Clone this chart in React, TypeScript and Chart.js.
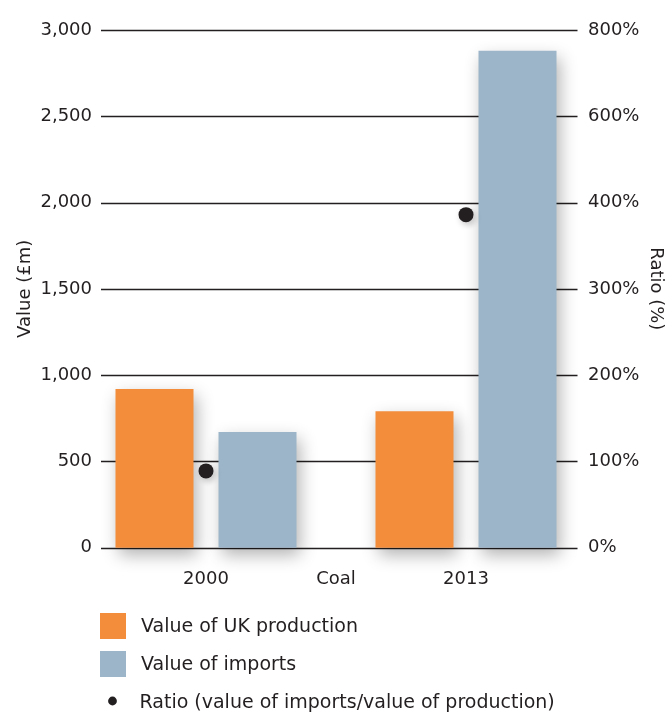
import React, { useEffect, useRef } from 'react';
import { Chart, registerables } from 'chart.js';

Chart.register(...registerables);

const categories = ['2000', 'Coal', '2013'];
const ukProduction = [920, null, 790];
const importsValue = [670, null, 2880];
const ratioPct = [89, null, 386];
const valueTickLabels = ['0', '500', '1,000', '1,500', '2,000', '2,500', '3,000'];
const ratioTickLabels = ['0%', '100%', '200%', '300%', '400%', '600%', '800%'];
const seriesLabels = [
  'Value of UK production',
  'Value of imports',
  'Ratio (value of imports/value of production)',
];
const axisTitles = ['Value (£m)', 'Ratio (%)'];

const ORANGE = '#F38D3B';
const BLUE = '#9CB5C8';
const INK = '#231F20';
const FONT = 'DejaVu Sans';

const gridPlugin = {
  id: 'hgrid',
  beforeDatasetsDraw(chart: any) {
    const { ctx, chartArea } = chart;
    const y = chart.scales.y;
    ctx.save();
    ctx.strokeStyle = INK;
    ctx.lineWidth = 1.3;
    y.ticks.forEach((t: any) => {
      const py = Math.round(y.getPixelForValue(t.value)) + 0.5;
      ctx.beginPath();
      ctx.moveTo(chartArea.left - 40, py);
      ctx.lineTo(chartArea.right + 46.5, py);
      ctx.stroke();
    });
    ctx.restore();
  },
};

const shadowPlugin = {
  id: 'shadows',
  beforeDatasetDraw(chart: any, args: any) {
    const ctx = chart.ctx;
    const isBar = chart.getDatasetMeta(args.index).type === 'bar';
    ctx.save();
    ctx.shadowColor = isBar ? 'rgba(0,0,0,0.3)' : 'rgba(0,0,0,0.22)';
    ctx.shadowBlur = isBar ? 16 : 6;
    ctx.shadowOffsetX = isBar ? 3 : 2;
    ctx.shadowOffsetY = isBar ? 7 : 3;
  },
  afterDatasetDraw(chart: any) {
    chart.ctx.restore();
  },
};

const legendPlugin = {
  id: 'customLegend',
  afterDraw(chart: any) {
    const { ctx } = chart;
    const ds = chart.data.datasets;
    const prod = ds.find((d: any) => d.label === seriesLabels[0]);
    const imp = ds.find((d: any) => d.label === seriesLabels[1]);
    const rat = ds.find((d: any) => d.label === seriesLabels[2]);
    ctx.save();
    ctx.font = `19px "${FONT}"`;
    ctx.textBaseline = 'middle';
    ctx.textAlign = 'left';
    const rows = [
      { y: 626, d: prod },
      { y: 664, d: imp },
    ];
    rows.forEach((r) => {
      ctx.fillStyle = r.d.backgroundColor;
      ctx.fillRect(100, r.y - 13, 26, 26);
      ctx.fillStyle = INK;
      ctx.fillText(r.d.label, 141, r.y + 1);
    });
    ctx.beginPath();
    ctx.arc(112.5, 701, 4.4, 0, Math.PI * 2);
    ctx.fillStyle = rat.backgroundColor;
    ctx.fill();
    ctx.fillStyle = INK;
    ctx.fillText(rat.label, 139.5, 703);
    ctx.restore();
  },
};

export default function App() {
  const ref = useRef<HTMLCanvasElement | null>(null);

  useEffect(() => {
    document.body.style.margin = '0';
    if (!ref.current) return;
    Chart.defaults.font.family = FONT;
    Chart.defaults.color = INK;
    const chart = new Chart(ref.current, {
      type: 'bar',
      data: {
        labels: categories,
        datasets: [
          {
            type: 'line',
            label: seriesLabels[2],
            data: ratioPct,
            yAxisID: 'y1',
            showLine: false,
            pointRadius: 7.5,
            pointBackgroundColor: INK,
            pointBorderWidth: 0,
            backgroundColor: INK,
            borderColor: INK,
            clip: false,
            order: 0,
          } as any,
          {
            type: 'bar',
            label: seriesLabels[0],
            data: ukProduction,
            yAxisID: 'y',
            backgroundColor: ORANGE,
            borderWidth: 0,
            categoryPercentage: 206 / 130,
            barPercentage: 78 / 103,
            clip: false,
            order: 1,
          },
          {
            type: 'bar',
            label: seriesLabels[1],
            data: importsValue,
            yAxisID: 'y',
            backgroundColor: BLUE,
            borderWidth: 0,
            categoryPercentage: 206 / 130,
            barPercentage: 78 / 103,
            clip: false,
            order: 2,
          },
        ],
      },
      options: {
        responsive: false,
        animation: false,
        layout: { padding: { top: 30, left: 0, right: 0, bottom: 0 } },
        plugins: {
          legend: { display: false },
          tooltip: { enabled: false },
          title: { display: false },
        },
        scales: {
          x: {
            grid: { display: false, drawTicks: false },
            border: { display: false },
            ticks: { font: { size: 18, family: FONT }, color: INK, padding: 21 },
            afterFit: (s: any) => {
              s.height = 168.3;
              s.paddingLeft = 0;
              s.paddingRight = 0;
            },
          },
          y: {
            position: 'left',
            min: 0,
            max: 3000,
            grid: { display: false, drawTicks: false },
            border: { display: false },
            ticks: {
              stepSize: 500,
              padding: 49,
              font: { size: 18, family: FONT },
              color: INK,
              callback: (_v: any, i: number) => valueTickLabels[i],
            },
            title: {
              display: true,
              text: axisTitles[0],
              font: { size: 18, family: FONT },
              color: INK,
              padding: { top: 15, bottom: 0 },
            },
            afterFit: (s: any) => {
              s.width = 141;
              s.paddingTop = 10;
              s.paddingBottom = 10;
            },
          },
          y1: {
            position: 'right',
            min: 0,
            max: 600,
            grid: { display: false, drawTicks: false },
            border: { display: false },
            ticks: {
              stepSize: 100,
              padding: 57,
              font: { size: 18, family: FONT },
              color: INK,
              callback: (_v: any, i: number) => ratioTickLabels[i],
            },
            title: {
              display: true,
              text: axisTitles[1],
              font: { size: 18, family: FONT },
              color: INK,
              padding: { top: 3, bottom: 0 },
            },
            afterFit: (s: any) => {
              s.width = 138;
              s.paddingTop = 10;
              s.paddingBottom = 10;
            },
          },
        },
      } as any,
      plugins: [gridPlugin, shadowPlugin, legendPlugin],
    });
    return () => chart.destroy();
  }, []);

  return (
    <div style={{ width: 669, height: 716, background: '#fff' }}>
      <canvas ref={ref} width={669} height={716} style={{ display: 'block' }} />
    </div>
  );
}
